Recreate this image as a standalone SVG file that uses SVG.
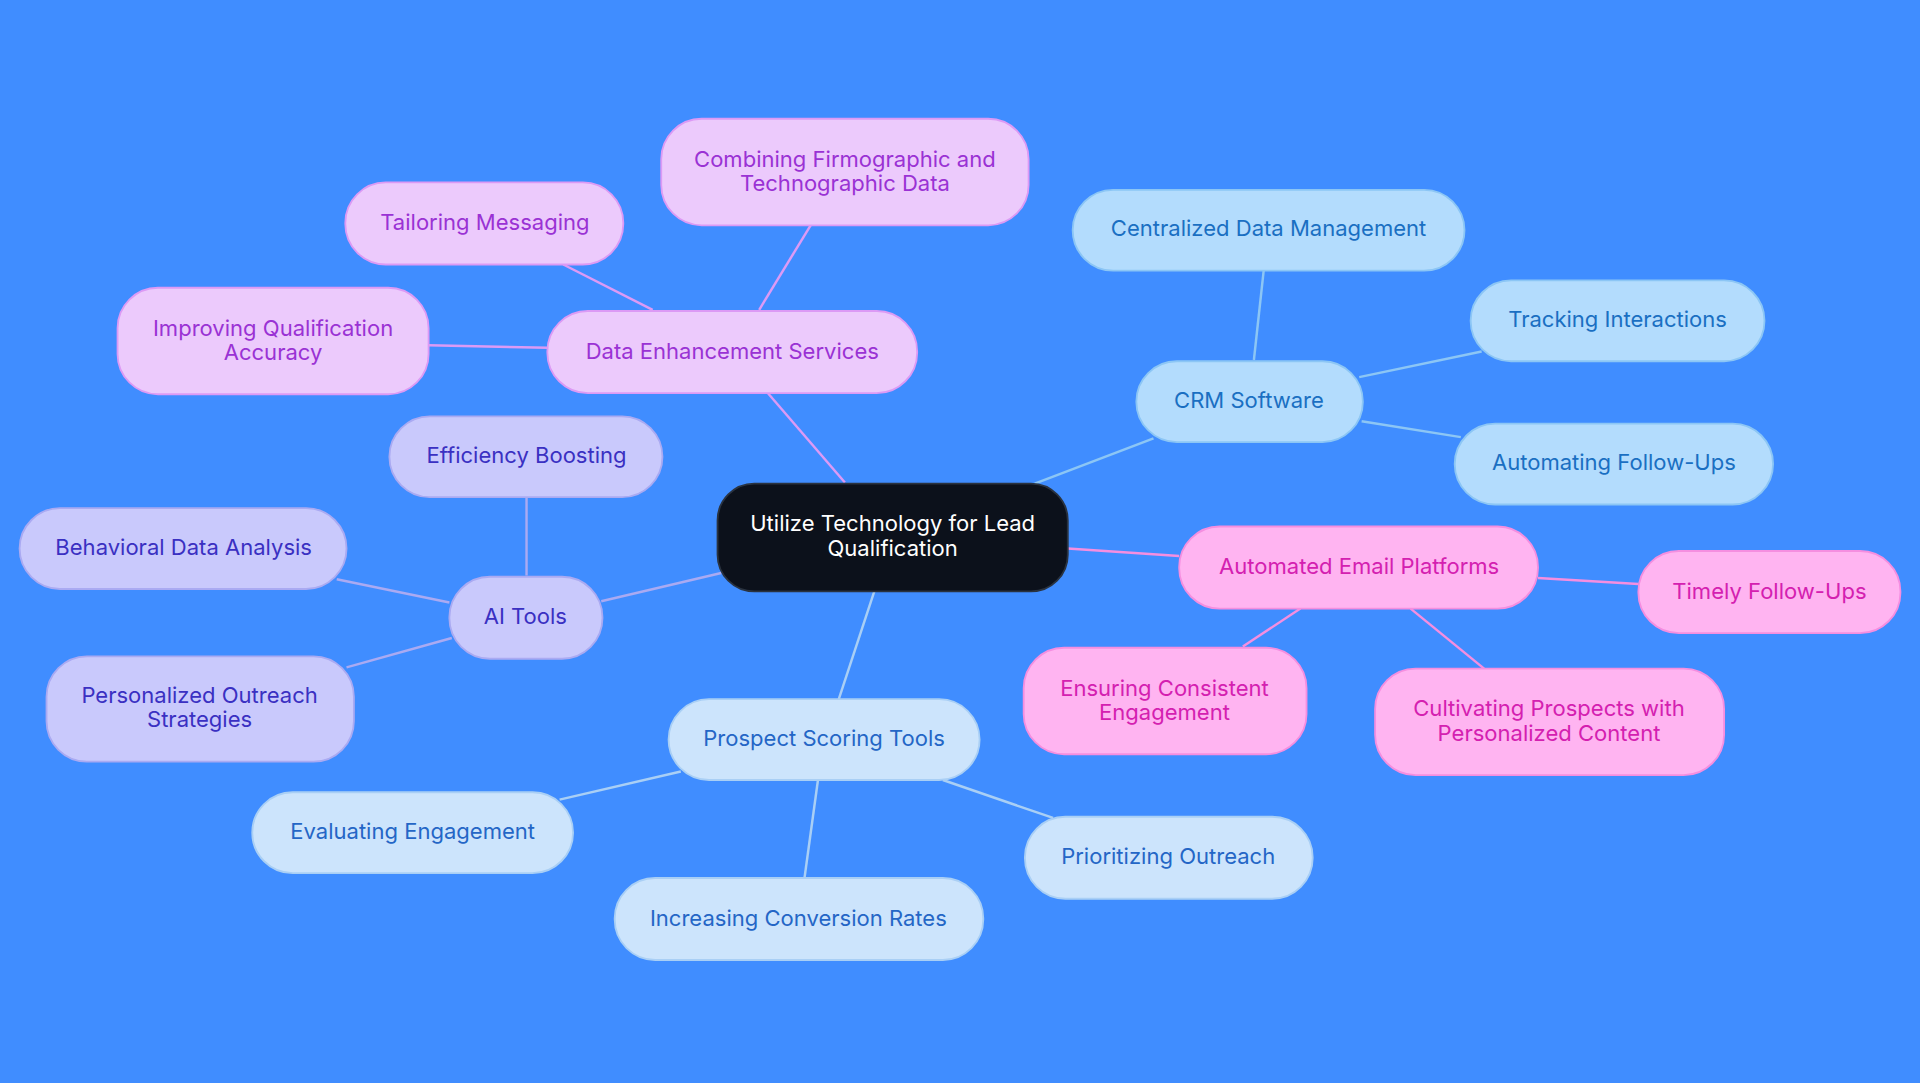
<svg xmlns="http://www.w3.org/2000/svg" width="1920" height="1083" viewBox="0 0 1920 1083">
<style>
text{font-family:Inter,"Noto Sans","Liberation Sans",sans-serif;font-size:18px;text-anchor:middle}
.c rect{fill:#0c111b;stroke:#2a3340;stroke-width:1.5}
.c text{fill:#ffffff}
.p rect{fill:#eccafc;stroke:#dc9af5;stroke-width:1.5}.p text{fill:#9a32d4}
.b rect{fill:#b3dcfd;stroke:#8cc6f5;stroke-width:1.5}.b text{fill:#1a6fc2}
.m rect{fill:#ffb4f1;stroke:#f58ee0;stroke-width:1.5}.m text{fill:#d420b0}
.l rect{fill:#cce4fc;stroke:#a9cff5;stroke-width:1.5}.l text{fill:#2466c6}
.v rect{fill:#c9c9fc;stroke:#aaaaf2;stroke-width:1.5}.v text{fill:#3a30c2}
#edges line{stroke-width:2}
</style>
<rect width="1920" height="1083" fill="#408dff"/>
<g transform="scale(1.2245)">
<g id="edges">
<g stroke="#dc9af5"><line x1="690" y1="394" x2="627" y2="321"/><line x1="620" y1="253" x2="662" y2="184"/><line x1="533" y1="253" x2="460" y2="216"/><line x1="447" y1="284" x2="350" y2="282"/></g>
<g stroke="#8cc6f5"><line x1="845" y1="395" x2="942" y2="358"/><line x1="1024" y1="294" x2="1032" y2="221"/><line x1="1110" y1="308" x2="1210" y2="287"/><line x1="1112" y1="344" x2="1193" y2="357"/></g>
<g stroke="#f58ee0"><line x1="872" y1="448" x2="963" y2="454"/><line x1="1256" y1="472" x2="1338" y2="477"/><line x1="1062" y1="497" x2="1015" y2="528"/><line x1="1152" y1="497" x2="1212" y2="546"/></g>
<g stroke="#a9cff5"><line x1="714" y1="483" x2="685" y2="571"/><line x1="556" y1="630" x2="457" y2="653"/><line x1="668" y1="637" x2="657" y2="717"/><line x1="770" y1="637" x2="860" y2="668"/></g>
<g stroke="#aaaaf2"><line x1="589" y1="468" x2="491" y2="491"/><line x1="430" y1="470" x2="430" y2="406"/><line x1="367" y1="492" x2="275" y2="473"/><line x1="369" y1="521" x2="283" y2="545"/></g>
</g>
<g id="center" class="c"><rect x="586" y="395" width="286" height="88" rx="30"/><text x="729" y="434">Utilize Technology for Lead</text><text x="729" y="454">Qualification</text></g>
<g id="des" class="p"><rect x="447" y="254" width="302" height="67" rx="33"/><text x="598" y="293">Data Enhancement Services</text></g>
<g id="comb" class="p"><rect x="540" y="97" width="300" height="87" rx="33"/><text x="690" y="136">Combining Firmographic and</text><text x="690" y="156">Technographic Data</text></g>
<g id="tail" class="p"><rect x="282" y="149" width="227" height="67" rx="33"/><text x="396" y="188">Tailoring Messaging</text></g>
<g id="impr" class="p"><rect x="96" y="235" width="254" height="87" rx="33"/><text x="223" y="274">Improving Qualification</text><text x="223" y="294">Accuracy</text></g>
<g id="crm" class="b"><rect x="928" y="295" width="185" height="66" rx="33"/><text x="1020" y="333">CRM Software</text></g>
<g id="cent" class="b"><rect x="876" y="155" width="320" height="66" rx="33"/><text x="1036" y="193">Centralized Data Management</text></g>
<g id="track" class="b"><rect x="1201" y="229" width="240" height="66" rx="33"/><text x="1321" y="267">Tracking Interactions</text></g>
<g id="autof" class="b"><rect x="1188" y="346" width="260" height="66" rx="33"/><text x="1318" y="384">Automating Follow-Ups</text></g>
<g id="aep" class="m"><rect x="963" y="430" width="293" height="67" rx="33"/><text x="1110" y="469">Automated Email Platforms</text></g>
<g id="timely" class="m"><rect x="1338" y="450" width="214" height="67" rx="33"/><text x="1445" y="489">Timely Follow-Ups</text></g>
<g id="ensur" class="m"><rect x="836" y="529" width="231" height="87" rx="33"/><text x="951" y="568">Ensuring Consistent</text><text x="951" y="588">Engagement</text></g>
<g id="cult" class="m"><rect x="1123" y="546" width="285" height="87" rx="33"/><text x="1265" y="585">Cultivating Prospects with</text><text x="1265" y="605">Personalized Content</text></g>
<g id="pst" class="l"><rect x="546" y="571" width="254" height="66" rx="33"/><text x="673" y="609">Prospect Scoring Tools</text></g>
<g id="eval" class="l"><rect x="206" y="647" width="262" height="66" rx="33"/><text x="337" y="685">Evaluating Engagement</text></g>
<g id="incr" class="l"><rect x="502" y="717" width="301" height="67" rx="33"/><text x="652" y="756">Increasing Conversion Rates</text></g>
<g id="prior" class="l"><rect x="837" y="667" width="235" height="67" rx="33"/><text x="954" y="706">Prioritizing Outreach</text></g>
<g id="ai" class="v"><rect x="367" y="471" width="125" height="67" rx="33"/><text x="429" y="510">AI Tools</text></g>
<g id="eff" class="v"><rect x="318" y="340" width="223" height="66" rx="33"/><text x="430" y="378">Efficiency Boosting</text></g>
<g id="beh" class="v"><rect x="16" y="415" width="267" height="66" rx="33"/><text x="150" y="453">Behavioral Data Analysis</text></g>
<g id="pers" class="v"><rect x="38" y="536" width="251" height="86" rx="33"/><text x="163" y="574">Personalized Outreach</text><text x="163" y="594">Strategies</text></g>
</g>
</svg>
